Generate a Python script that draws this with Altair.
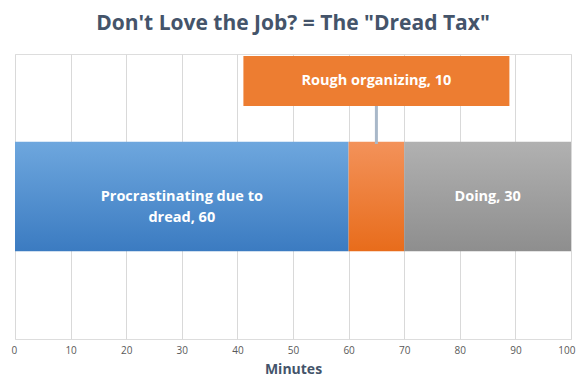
import altair as alt
import pandas as pd

categories = ["Procrastinating due to dread", "Rough organizing", "Doing"]
minutes = [60, 10, 30]
labels = ["Procrastinating due to\ndread, 60", "Rough organizing, 10", "Doing, 30"]
x_ticks = [0, 10, 20, 30, 40, 50, 60, 70, 80, 90, 100]

df = pd.DataFrame({"category": categories, "minutes": minutes, "label": labels})
df["end"] = df["minutes"].cumsum()
df["start"] = df["end"] - df["minutes"]
df["mid"] = (df["start"] + df["end"]) / 2
df["row"] = "Task"

def grad(top, bottom):
    return alt.LinearGradient(
        gradient="linear",
        stops=[alt.GradientStop(color=top, offset=0), alt.GradientStop(color=bottom, offset=1)],
        x1=0, x2=0, y1=0, y2=1,
    )

gradients = {
    "Procrastinating due to dread": grad("#6ea7de", "#3b7bc1"),
    "Rough organizing": grad("#f3925a", "#e86c1b"),
    "Doing": grad("#b1b1b1", "#8e8e8e"),
}

xenc = alt.X(
    "start:Q",
    scale=alt.Scale(domain=[0, 100], nice=False),
    axis=alt.Axis(
        values=x_ticks, title="Minutes", grid=True, gridColor="#d9d9d9", ticks=False,
        domain=False, labelColor="#595959", labelFontSize=10, labelFont="Open Sans",
        labelPadding=6, labelFlush=True, labelFlushOffset=4, titleFont="Open Sans",
        titleFontSize=14, titleFontWeight="bold", titleColor="#44546a", titlePadding=7,
    ),
)
yenc = alt.Y("row:N", axis=None, scale=alt.Scale(paddingOuter=0.8, paddingInner=0))

base = alt.Chart(df)
layers = []
for cat in categories:
    layers.append(
        base.transform_filter(alt.datum.category == cat)
        .mark_bar(color=gradients[cat])
        .encode(x=xenc, x2="end:Q", y=yenc)
    )

seg_text = (
    base.transform_filter(alt.datum.category != "Rough organizing")
    .mark_text(color="white", fontWeight="bold", fontSize=14.5, font="Open Sans", lineBreak="\n", lineHeight=21)
    .encode(x="mid:Q", y=yenc, text="label:N")
)

callout = base.transform_filter(alt.datum.category == "Rough organizing")
rule = callout.mark_rule(color="#a9b8c9", strokeWidth=3).encode(
    x="mid:Q", y=alt.value(52), y2=alt.value(90)
)
box = callout.mark_rect(color="#ed7d31", xOffset=-133, x2Offset=133).encode(
    x="mid:Q", x2="mid:Q", y=alt.value(2), y2=alt.value(52)
)
box_text = callout.mark_text(color="white", fontWeight="bold", fontSize=14.5, font="Open Sans").encode(
    x="mid:Q", y=alt.value(27), text="label:N"
)

chart = (
    alt.layer(*layers, seg_text, rule, box, box_text)
    .properties(
        width=556, height=285,
        title=alt.TitleParams(
            'Don\'t Love the Job? = The "Dread Tax"', font="Open Sans", fontSize=21,
            fontWeight="bold", color="#44546a", anchor="middle", offset=20,
        ),
        autosize=alt.AutoSizeParams(type="none"),
        padding={"left": 7, "top": 46, "right": 5, "bottom": 42},
    )
    .configure_view(stroke="transparent")
    .configure(background="white")
)

chart.save("out.html", embed_options={"renderer": "svg", "actions": False})
